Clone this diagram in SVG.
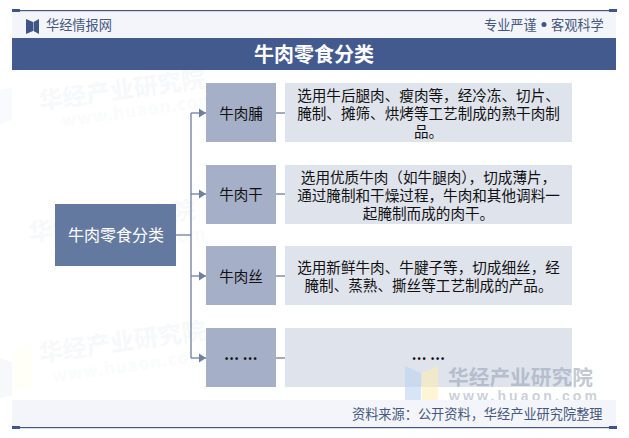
<svg xmlns="http://www.w3.org/2000/svg" width="629" height="438" viewBox="0 0 629 438">
<defs>
<style>
text{font-family:"Noto Sans CJK SC","Liberation Sans",sans-serif}
.mid{fill:#a5afc7}
.desc{fill:#dfe3ec}
.mt{font-size:14.500px;fill:#111;text-anchor:middle}
.dt{font-size:14.600px;fill:#111;text-anchor:middle}
.el{font-size:14.500px;font-weight:700;letter-spacing:.3px;fill:#111;text-anchor:middle}
.c{fill:none;stroke:#6f7f9f;stroke-width:1.3}
.wm{font-size:24px;font-weight:700;fill:#f7f8fa}
.wu{font-size:17px;font-weight:700;fill:#fafbfc;letter-spacing:1px}
.hd{font-size:13.200px;fill:#46587f}
</style>
<marker id="arr" markerUnits="userSpaceOnUse" markerWidth="8" markerHeight="10" refX="7" refY="5" orient="auto"><path d="M0 0.5L7 5L0 9.5z" fill="#6f7f9f"/></marker>
</defs>
<rect width="629" height="438" fill="#fff"/>
<g id="watermarks">
<path d="M0 90L12 88V120L0 124z" fill="#f8fafd"/>
<path d="M0 358L12 362V395L0 398z" fill="#f6f8fc"/>
<path d="M14 350L31 345V388L14 392z" fill="#fffef7"/>
<g transform="rotate(-8 40 110)"><text class="wm" x="40" y="110">华经产业研究院</text><text class="wu" x="60" y="130">www.huaon.com</text></g>
<g transform="rotate(-8 40 240)"><text class="wm" x="30" y="240">华经产业研究院</text><text class="wu" x="50" y="262">www.huaon.com</text></g>
<g transform="rotate(-8 40 360)"><text class="wm" x="40" y="362">华经产业研究院</text><text class="wu" x="50" y="384">www.huaon.com</text></g>
</g>
<g id="header">
<rect x="12" y="11" width="604" height="27" fill="#f3f5fa"/>
<rect x="12" y="10" width="605" height="1.2" fill="#46587f"/>
<rect x="12" y="9" width="8" height="3" fill="#3f5587"/>
<rect x="609" y="9" width="8" height="3" fill="#3f5587"/>
<path d="M26 19L33 22V31L26 34z" fill="#3f5587"/>
<path d="M39 19L33.500 22V31L39 34z" fill="#3f5587"/>
<text class="hd" x="46" y="30">华经情报网</text>
<text class="hd" x="484" y="30">专业严谨</text>
<circle cx="544" cy="24.500" r="2.500" fill="#3f5587"/>
<text class="hd" x="551" y="30">客观科学</text>
</g>
<g id="title">
<rect x="12" y="38" width="604" height="32" fill="#435a8f"/>
<text x="314" y="62" font-size="20" font-weight="700" fill="#fff" text-anchor="middle">牛肉零食分类</text>
</g>
<g id="connectors">
<path class="c" d="M176 235H191"/>
<path class="c" d="M191 113V358"/>
<path class="c" d="M191 113H206" marker-end="url(#arr)"/>
<path class="c" d="M191 194H206" marker-end="url(#arr)"/>
<path class="c" d="M191 276H206" marker-end="url(#arr)"/>
<path class="c" d="M191 358H206" marker-end="url(#arr)"/>
<path class="c" d="M276 113H286"/>
<path class="c" d="M276 194H286"/>
<path class="c" d="M276 276H286"/>
<path class="c" d="M276 358H286"/>
</g>
<g id="root">
<rect x="55" y="204" width="121" height="62" fill="#64799f"/>
<text x="116" y="241" font-size="16" fill="#fff" text-anchor="middle">牛肉零食分类</text>
</g>
<g id="n1">
<rect class="mid" x="206" y="83" width="70" height="59"/>
<text class="mt" x="241" y="119">牛肉脯</text>
</g>
<g id="n2">
<rect class="mid" x="206" y="165" width="70" height="59"/>
<text class="mt" x="241" y="200">牛肉干</text>
</g>
<g id="n3">
<rect class="mid" x="206" y="246" width="70" height="59"/>
<text class="mt" x="241" y="282">牛肉丝</text>
</g>
<g id="n4">
<rect class="mid" x="206" y="328" width="70" height="59"/>
<text class="el" x="241" y="360">... ...</text>
</g>
<g id="d1">
<rect class="desc" x="285" y="83" width="287" height="59"/>
<text class="dt" x="428.500" y="100.500">选用牛后腿肉、瘦肉等，经冷冻、切片、</text>
<text class="dt" x="428.500" y="118.500">腌制、摊筛、烘烤等工艺制成的熟干肉制</text>
<text class="dt" x="428.500" y="136.500">品。</text>
</g>
<g id="d2">
<rect class="desc" x="285" y="165" width="287" height="59"/>
<text class="dt" x="428.500" y="182.500">选用优质牛肉（如牛腿肉），切成薄片，</text>
<text class="dt" x="428.500" y="200.500">通过腌制和干燥过程，牛肉和其他调料一</text>
<text class="dt" x="428.500" y="218.500">起腌制而成的肉干。</text>
</g>
<g id="d3">
<rect class="desc" x="285" y="246" width="287" height="59"/>
<text class="dt" x="428.500" y="272.500">选用新鲜牛肉、牛腱子等，切成细丝，经</text>
<text class="dt" x="428.500" y="290.500">腌制、蒸熟、撕丝等工艺制成的产品。</text>
</g>
<g id="d4">
<rect class="desc" x="285" y="328" width="287" height="59"/>
<text class="el" x="428.500" y="360">... ...</text>
</g>
<g id="watermark-front">
<path d="M405 366L421 373V401H405z" fill="#bcd3f0" fill-opacity=".6"/>
<path d="M422 373L438 366V400L422 401z" fill="#fbeeb5" fill-opacity=".6"/>
<text x="448" y="385" font-size="20.700" font-weight="700" fill="#9aa4b8" fill-opacity=".6">华经产业研究院</text>
<text x="449" y="401" font-size="14" font-weight="700" fill="#b4bac8" fill-opacity=".7" letter-spacing="3.100" style="font-family:'Liberation Sans',sans-serif">www.huaon.com</text>
</g>
<g id="footer">
<rect x="12" y="400" width="604" height="27" fill="#f3f5fa"/>
<rect x="12" y="427" width="605" height="1.200" fill="#46587f"/>
<rect x="12" y="426" width="8" height="3" fill="#3f5587"/>
<rect x="609" y="426" width="8" height="3" fill="#3f5587"/>
<text class="hd" x="352" y="419">资料来源：公开资料，华经产业研究院整理</text>
</g>
</svg>
